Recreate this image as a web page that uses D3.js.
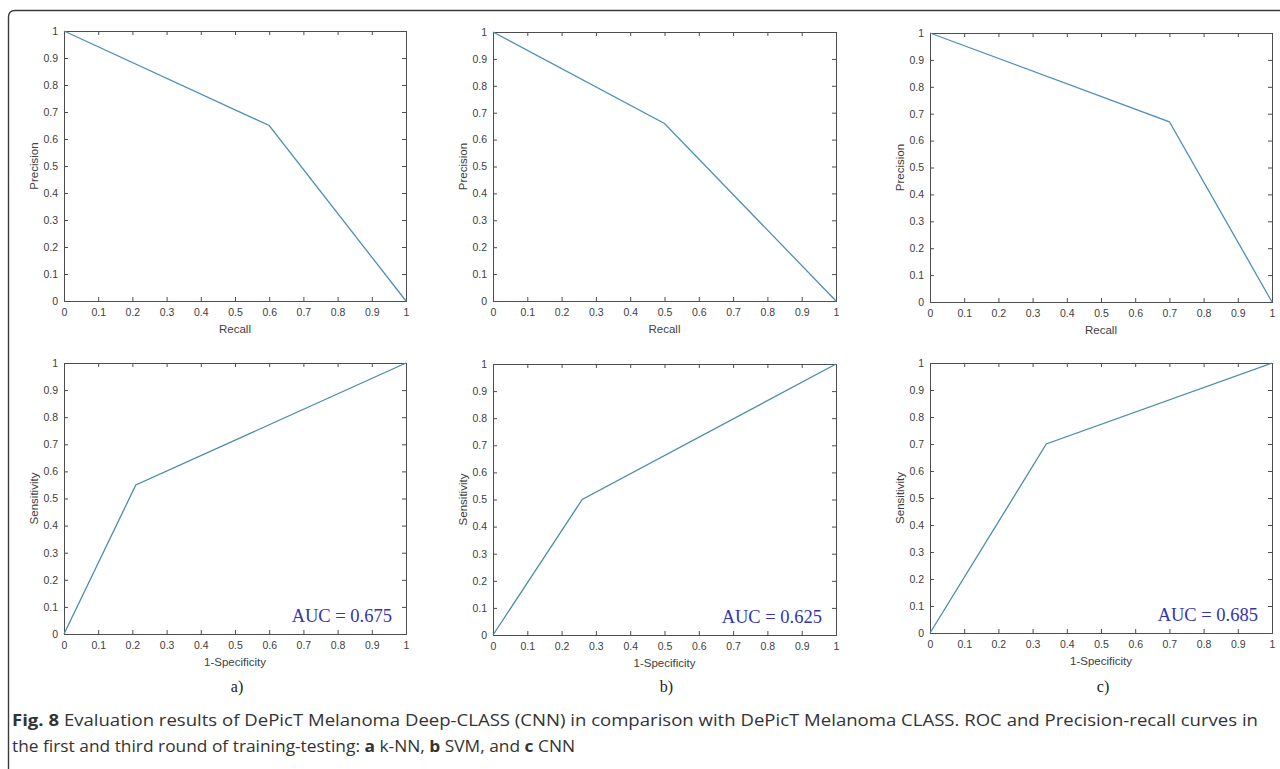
<!DOCTYPE html>
<html><head><meta charset="utf-8">
<script src="https://cdn.jsdelivr.net/npm/d3@7"></script>
<style>
html,body{margin:0;padding:0;background:#fff;}
svg{display:block;}
</style></head>
<body>
<svg id="chart" width="1280" height="769"></svg>
<script>
// ---- data ----
const panelNames = ["a)", "b)", "c)"];
const prRecall = [[0, 0.6, 1], [0, 0.5, 1], [0, 0.7, 1]];
const prPrecision = [[1, 0.65, 0], [1, 0.66, 0], [1, 0.67, 0]];
const rocFpr = [[0, 0.21, 1], [0, 0.26, 1], [0, 0.34, 1]];
const rocTpr = [[0, 0.55, 1], [0, 0.50, 1], [0, 0.70, 1]];
const aucValues = ["0.675", "0.625", "0.685"];
const tickValues = [0, 0.1, 0.2, 0.3, 0.4, 0.5, 0.6, 0.7, 0.8, 0.9, 1];
const captionLine1Bold = "Fig. 8";
const captionLine1 = " Evaluation results of DePicT Melanoma Deep-CLASS (CNN) in comparison with DePicT Melanoma CLASS. ROC and Precision-recall curves in";
const captionLine2 = ["the first and third round of training-testing: ", ["a"], " k-NN, ", ["b"], " SVM, and ", ["c"], " CNN"];

// ---- layout ----
const colX = [[64, 406], [493, 836], [930, 1272]];
const topY = [[31, 301], [32, 301], [33, 302]];
const botY = [[363, 634], [364, 635], [363, 633]];

const svg = d3.select("#chart");

// outer frame with rounded corner
svg.append("path")
  .attr("d", "M8.5,790 L8.5,17 Q8.5,10.5 15,10.5 L1300,10.5")
  .attr("fill", "none").attr("stroke", "#3a3a3a").attr("stroke-width", 1.4);

const axisColor = "#4d4d4d";
const tickFont = "'Liberation Sans', Arial, sans-serif";

function drawPanel(xr, yr, xs, ys, color, xlabel, ylabel) {
  const x = d3.scaleLinear().domain([0, 1]).range(xr);
  const y = d3.scaleLinear().domain([0, 1]).range([yr[1], yr[0]]);
  const g = svg.append("g");
  const fmt = d => d === 0 ? "0" : d === 1 ? "1" : d3.format(".1f")(d);

  const bx = g.append("g").attr("transform", `translate(0,${yr[1]})`)
    .call(d3.axisBottom(x).tickValues(tickValues).tickSize(-4).tickPadding(8).tickFormat(fmt));
  const ly = g.append("g").attr("transform", `translate(${xr[0]},0)`)
    .call(d3.axisLeft(y).tickValues(tickValues).tickSize(-4).tickPadding(6).tickFormat(fmt));
  const tx = g.append("g").attr("transform", `translate(0,${yr[0]})`)
    .call(d3.axisTop(x).tickValues(tickValues).tickSize(-4).tickFormat(""));
  const ry = g.append("g").attr("transform", `translate(${xr[1]},0)`)
    .call(d3.axisRight(y).tickValues(tickValues).tickSize(-4).tickFormat(""));
  [bx, ly, tx, ry].forEach(a => {
    a.selectAll("path").attr("stroke", axisColor).attr("stroke-width", 1);
    a.selectAll("line").attr("stroke", axisColor).attr("stroke-width", 1);
    a.selectAll("text").attr("fill", "#404040").style("font-family", tickFont).style("font-size", "10.5px");
  });

  const pts = xs.map((v, i) => [v, ys[i]]);
  g.append("path").datum(pts)
    .attr("fill", "none").attr("stroke", color).attr("stroke-width", 1.3)
    .attr("d", d3.line().x(d => x(d[0])).y(d => y(d[1])));

  g.append("text").attr("x", (xr[0] + xr[1]) / 2).attr("y", yr[1] + 32)
    .attr("text-anchor", "middle").attr("fill", "#404040")
    .style("font-family", tickFont).style("font-size", "11.5px").text(xlabel);
  g.append("text")
    .attr("transform", `translate(${xr[0] - 26},${(yr[0] + yr[1]) / 2}) rotate(-90)`)
    .attr("text-anchor", "middle").attr("fill", "#404040")
    .style("font-family", tickFont).style("font-size", "11.5px").text(ylabel);
  return {x, y, g};
}

for (let i = 0; i < 3; i++) {
  drawPanel(colX[i], topY[i], prRecall[i], prPrecision[i], "#4b8fbb", "Recall", "Precision");
  const p = drawPanel(colX[i], botY[i], rocFpr[i], rocTpr[i], "#4a8cab", "1-Specificity", "Sensitivity");
  p.g.append("text")
    .attr("x", colX[i][1] - 14).attr("y", botY[i][1] - 12)
    .attr("text-anchor", "end").attr("fill", "#3434b2")
    .style("font-family", "'Liberation Serif', 'Times New Roman', serif").style("font-size", "18.5px")
    .text("AUC = " + aucValues[i]);
  svg.append("text")
    .attr("x", (colX[i][0] + colX[i][1]) / 2 + 2).attr("y", 692)
    .attr("text-anchor", "middle").attr("fill", "#222")
    .style("font-family", "'Liberation Serif', 'Times New Roman', serif").style("font-size", "16px")
    .text(panelNames[i]);
}

// caption
const capFont = "'Open Sans', 'Noto Sans', sans-serif";
const c1 = svg.append("text").attr("x", 12).attr("y", 726)
  .attr("fill", "#333").style("font-family", capFont).style("font-size", "15.5px")
  .attr("textLength", 1246).attr("lengthAdjust", "spacingAndGlyphs");
c1.append("tspan").style("font-weight", "bold").text(captionLine1Bold);
c1.append("tspan").text(captionLine1);

const c2 = svg.append("text").attr("x", 12).attr("y", 752)
  .attr("fill", "#333").style("font-family", capFont).style("font-size", "15.5px")
  .attr("textLength", 563).attr("lengthAdjust", "spacingAndGlyphs");
captionLine2.forEach(part => {
  if (Array.isArray(part)) c2.append("tspan").style("font-weight", "bold").text(part[0]);
  else c2.append("tspan").text(part);
});
</script>
</body></html>
